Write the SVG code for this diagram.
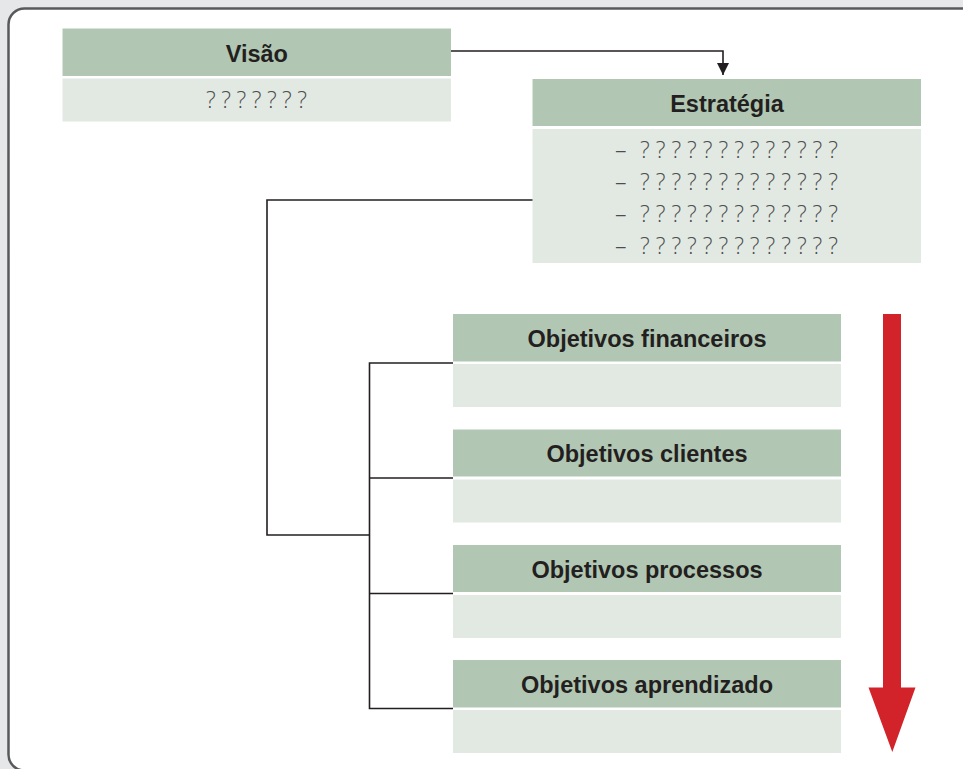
<svg xmlns="http://www.w3.org/2000/svg" width="963" height="769" viewBox="0 0 963 769">
  <style>
    .hdr { fill: #b2c7b3; }
    .bdy { fill: #e1e9e2; }
    .title { font-family: "Liberation Sans", Arial, sans-serif; font-weight: bold; font-size: 23.5px; fill: #231f20; text-anchor: middle; }
    .q { font-family: "Open Sans", "Liberation Sans", sans-serif; font-weight: 300; font-size: 23px; fill: #4d4d4f; }
    .conn { fill: none; stroke: #231f20; stroke-width: 1.6; }
  </style>
  <defs>
    <marker id="ah" viewBox="0 0 10 10" refX="10" refY="5" markerWidth="14" markerHeight="12" markerUnits="userSpaceOnUse" orient="auto">
      <path d="M0,0 L10,5 L0,10 Z" fill="#231f20"/>
    </marker>
  </defs>
  <rect x="0" y="0" width="963" height="769" fill="#e6e7e8"/>
  <rect x="8.5" y="8.5" width="970" height="762" rx="16" ry="16" fill="#ffffff" stroke="#58595b" stroke-width="2.5"/>

  <g id="visao">
    <rect class="hdr" x="62.5" y="28.5" width="388.5" height="47.5"/>
    <rect class="bdy" x="62.5" y="78.5" width="388.5" height="43"/>
    <text class="title" x="256.8" y="62">Visão</text>
    <text class="q" x="206" y="108" textLength="101">? ? ? ? ? ? ?</text>
  </g>

  <g id="estrategia">
    <rect class="hdr" x="532.5" y="79" width="388.5" height="47"/>
    <rect class="bdy" x="532.5" y="129" width="388.5" height="134"/>
    <text class="title" x="727" y="111.5">Estratégia</text>
    <text class="q" y="158"><tspan x="615">–</tspan><tspan x="640" textLength="198">? ? ? ? ? ? ? ? ? ? ? ? ?</tspan></text>
    <text class="q" y="190"><tspan x="615">–</tspan><tspan x="640" textLength="198">? ? ? ? ? ? ? ? ? ? ? ? ?</tspan></text>
    <text class="q" y="222"><tspan x="615">–</tspan><tspan x="640" textLength="198">? ? ? ? ? ? ? ? ? ? ? ? ?</tspan></text>
    <text class="q" y="254"><tspan x="615">–</tspan><tspan x="640" textLength="198">? ? ? ? ? ? ? ? ? ? ? ? ?</tspan></text>
  </g>

  <g id="obj-financeiros">
    <rect class="hdr" x="453" y="314" width="388" height="47.5"/>
    <rect class="bdy" x="453" y="364" width="388" height="43"/>
    <text class="title" x="647" y="346.5">Objetivos financeiros</text>
  </g>
  <g id="obj-clientes">
    <rect class="hdr" x="453" y="429.5" width="388" height="47"/>
    <rect class="bdy" x="453" y="479.5" width="388" height="43"/>
    <text class="title" x="647" y="462">Objetivos clientes</text>
  </g>
  <g id="obj-processos">
    <rect class="hdr" x="453" y="545" width="388" height="47"/>
    <rect class="bdy" x="453" y="595" width="388" height="43"/>
    <text class="title" x="647" y="577.5">Objetivos processos</text>
  </g>
  <g id="obj-aprendizado">
    <rect class="hdr" x="453" y="660" width="388" height="47.5"/>
    <rect class="bdy" x="453" y="710" width="388" height="43"/>
    <text class="title" x="647" y="692.5">Objetivos aprendizado</text>
  </g>

  <g id="connectors">
    <path class="conn" d="M451,51 H723 V75" marker-end="url(#ah)"/>
    <path class="conn" d="M532.5,200 H267 V535 H369.5"/>
    <path class="conn" d="M453,363 H369.5 V708.5 H453"/>
    <path class="conn" d="M369.5,478 H453"/>
    <path class="conn" d="M369.5,593.5 H453"/>
  </g>

  <g id="red-arrow">
    <path d="M883,314 H901 V687.5 H915.5 L892.3,752 L868.5,687.5 H883 Z" fill="#d2232a"/>
  </g>
</svg>
